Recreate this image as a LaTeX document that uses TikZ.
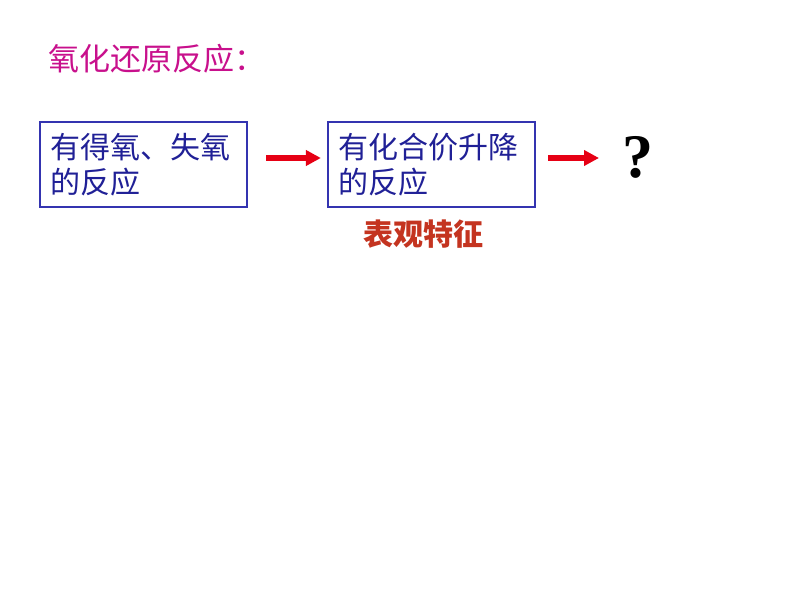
\documentclass[tikz,border=0pt]{standalone}
\usepackage{fontspec}
\setmainfont{Liberation Serif}
\newfontfamily\cjk{Noto Sans CJK SC}
\usetikzlibrary{arrows.meta}

\definecolor{titlemagenta}{RGB}{200,16,140}
\definecolor{boxblue}{RGB}{52,52,176}
\definecolor{textblue}{RGB}{32,32,150}
\definecolor{arrowred}{RGB}{230,0,20}
\definecolor{notebrown}{RGB}{196,52,32}

\begin{document}
\begin{tikzpicture}[x=1pt,y=-1pt,
        stepbox/.style={draw=boxblue,line width=2.2pt,minimum width=207pt,minimum height=85pt,
            text width=187pt,align=left,inner sep=0pt,text=textblue,
            font=\cjk\fontsize{30}{35}\selectfont},
        redarrow/.style={draw=arrowred,line width=6pt,-{Triangle[length=15pt,width=15pt]}}]
            \useasboundingbox (0,0) rectangle (794,596);
            \node (title) at (48,59) [anchor=west,text=titlemagenta,inner sep=0pt,
                font=\cjk\fontsize{31}{31}\selectfont] {氧化还原反应：};
            \node (oxygen) at (143.5,164.5) [stepbox] {有得氧、失氧\\的反应};
            \node (valence) at (431.5,164.5) [stepbox] {有化合价升降\\的反应};
            \node (question) at (637.5,157) [inner sep=0pt,font=\bfseries\fontsize{62}{62}\selectfont] {?};
            \node (feature) at (423,234) [text=notebrown,inner sep=0pt,
                font=\cjk\bfseries\fontsize{30}{30}\selectfont] {表观特征};
            \draw [redarrow,shorten <=18pt,shorten >=6pt] (oxygen.east |- 0,158) -- (valence.west |- 0,158);
            \coordinate (qin) at (599,158);
            \draw [redarrow,shorten <=12pt] (valence.east |- 0,158) -- (qin);
        \end{tikzpicture}
\end{document}
